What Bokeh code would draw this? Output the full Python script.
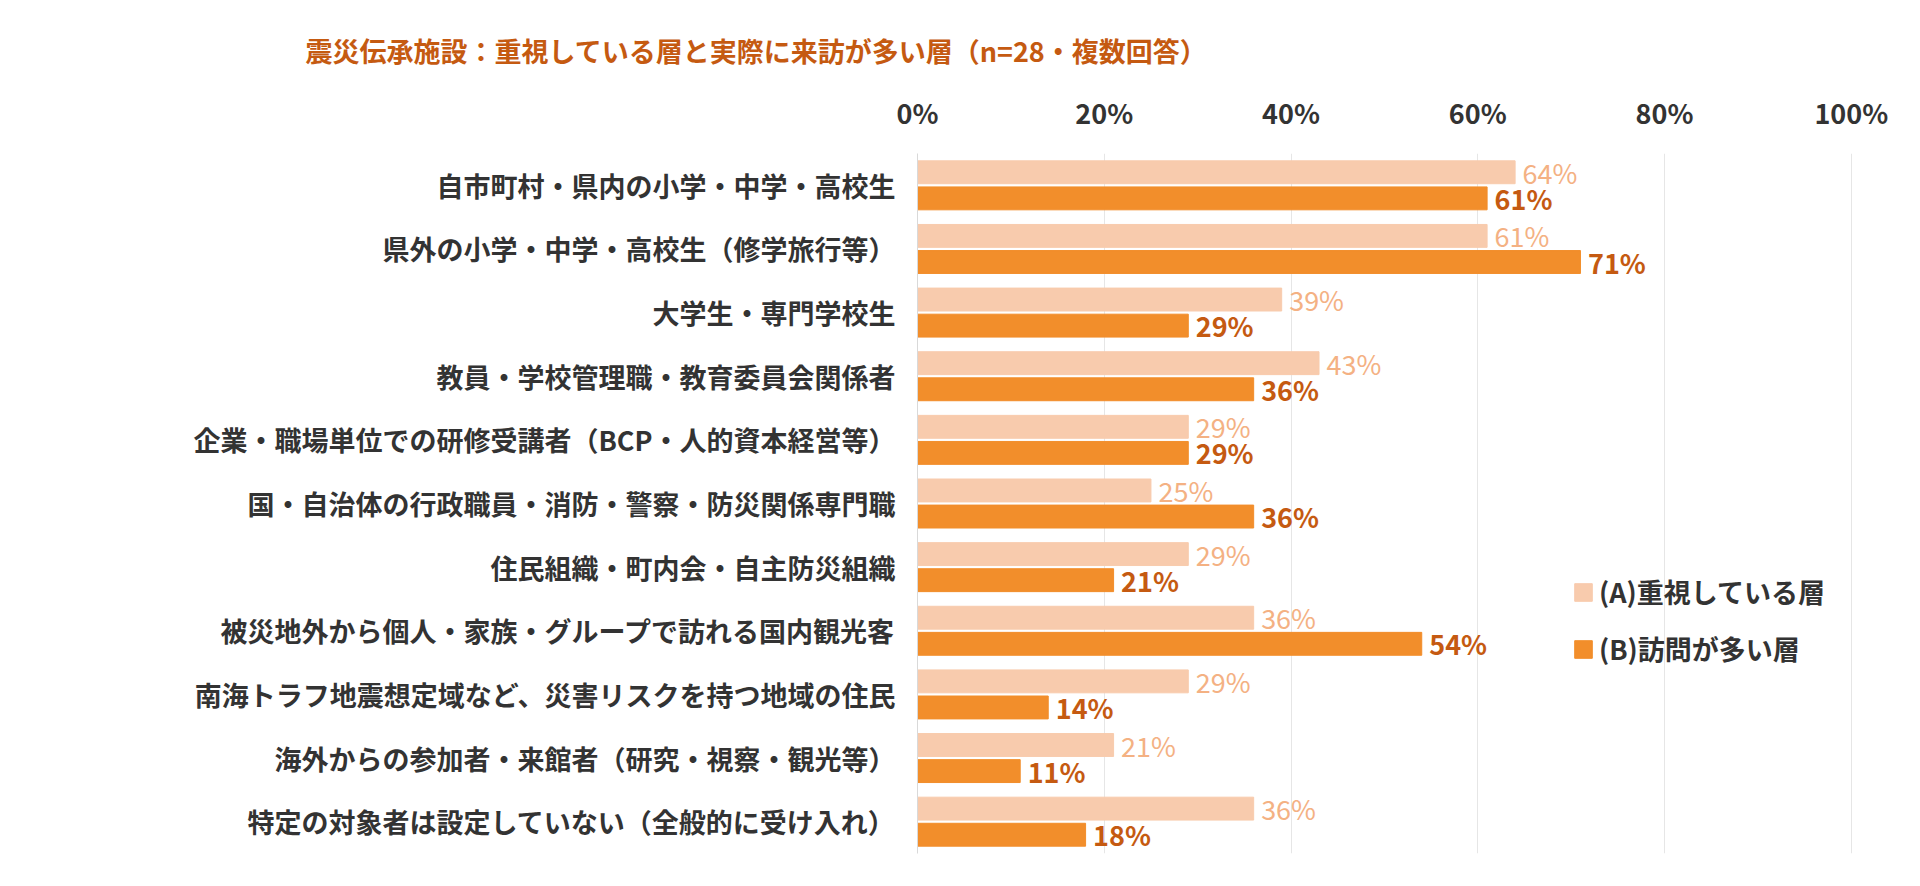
from bokeh.plotting import figure
from bokeh.models import Range1d, FixedTicker, Legend, LegendItem, ColumnDataSource, NumeralTickFormatter
from bokeh.core.properties import value
from bokeh.embed import file_html
from bokeh.resources import INLINE

categories = ["自市町村・県内の小学・中学・高校生", "県外の小学・中学・高校生（修学旅行等）", "大学生・専門学校生",
              "教員・学校管理職・教育委員会関係者", "企業・職場単位での研修受講者（BCP・人的資本経営等）",
              "国・自治体の行政職員・消防・警察・防災関係専門職", "住民組織・町内会・自主防災組織",
              "被災地外から個人・家族・グループで訪れる国内観光客", "南海トラフ地震想定域など、災害リスクを持つ地域の住民",
              "海外からの参加者・来館者（研究・視察・観光等）", "特定の対象者は設定していない（全般的に受け入れ）"]
series_a = [64, 61, 39, 43, 29, 25, 29, 36, 29, 21, 36]
series_b = [61, 71, 29, 36, 29, 36, 21, 54, 14, 11, 18]
name_a = "(A)重視している層"
name_b = "(B)訪問が多い層"
title = "震災伝承施設：重視している層と実際に来訪が多い層（n=28・複数回答）"

FONT = "Noto Sans CJK JP"
n = len(categories)
yc = [n - 1 - i for i in range(n)]
off = 0.205
src_a = ColumnDataSource(dict(y=[v + off for v in yc], x=[v / 100 for v in series_a],
                              lx=[v / 100 + 0.008 for v in series_a], t=[f"{v}%" for v in series_a]))
src_b = ColumnDataSource(dict(y=[v - off for v in yc], x=[v / 100 for v in series_b],
                              lx=[v / 100 + 0.008 for v in series_b], t=[f"{v}%" for v in series_b]))

p = figure(width=1904, height=870, output_backend="svg", toolbar_location=None,
           x_range=Range1d(0, 1.057), y_range=Range1d(-0.5, n - 0.5), x_axis_location="above",
           min_border_left=917, min_border_right=0, min_border_top=153, min_border_bottom=17)
p.title.text = title
p.title.align = "left"
p.title.offset = -612
p.title.standoff = 40
p.title.text_font = FONT
p.title.text_font_size = "27px"
p.title.text_font_style = "bold"
p.title.text_color = "#C55A11"
p.outline_line_color = None
p.xaxis.ticker = FixedTicker(ticks=[0, 0.2, 0.4, 0.6, 0.8, 1.0])
p.xaxis.formatter = NumeralTickFormatter(format="0%")
p.xaxis.axis_line_color = None
p.xaxis.major_tick_line_color = None
p.xaxis.minor_tick_line_color = None
p.xaxis.major_label_text_font = FONT
p.xaxis.major_label_text_font_size = "27px"
p.xaxis.major_label_text_font_style = "bold"
p.xaxis.major_label_text_color = "#333333"
p.xaxis.major_label_standoff = 16
p.xgrid.ticker = FixedTicker(ticks=[0.2, 0.4, 0.6, 0.8, 1.0])
p.xgrid.grid_line_color = "#e6e6e6"
p.ygrid.grid_line_color = None
p.yaxis.ticker = FixedTicker(ticks=yc)
p.yaxis.major_label_overrides = {y: c for y, c in zip(yc, categories)}
p.yaxis.axis_line_color = "#d9d9d9"
p.yaxis.major_tick_line_color = None
p.yaxis.minor_tick_line_color = None
p.yaxis.major_label_text_font = FONT
p.yaxis.major_label_text_font_size = "27px"
p.yaxis.major_label_text_font_style = "bold"
p.yaxis.major_label_text_color = "#333333"
p.yaxis.major_label_standoff = 16

ra = p.hbar(y="y", right="x", left=0, height=0.36, source=src_a, color="#F8CBAD")
rb = p.hbar(y="y", right="x", left=0, height=0.36, source=src_b, color="#F28E2B")
p.text(x="lx", y="y", text="t", source=src_a, text_font=value(FONT), text_font_size="27px",
       text_color="#F4B183", text_baseline="middle")
p.text(x="lx", y="y", text="t", source=src_b, text_font=value(FONT), text_font_size="27px",
       text_font_style="bold", text_color="#C55A11", text_baseline="middle")

leg = Legend(items=[LegendItem(label=name_a, renderers=[ra]), LegendItem(label=name_b, renderers=[rb])],
             location=(655, 185), label_text_font=FONT, label_text_font_size="27px",
             label_text_font_style="bold", label_text_color="#333333", glyph_width=22, glyph_height=22,
             spacing=18, border_line_color=None, background_fill_alpha=0)
p.add_layout(leg)

open("out.html", "w").write(file_html(p, INLINE))
